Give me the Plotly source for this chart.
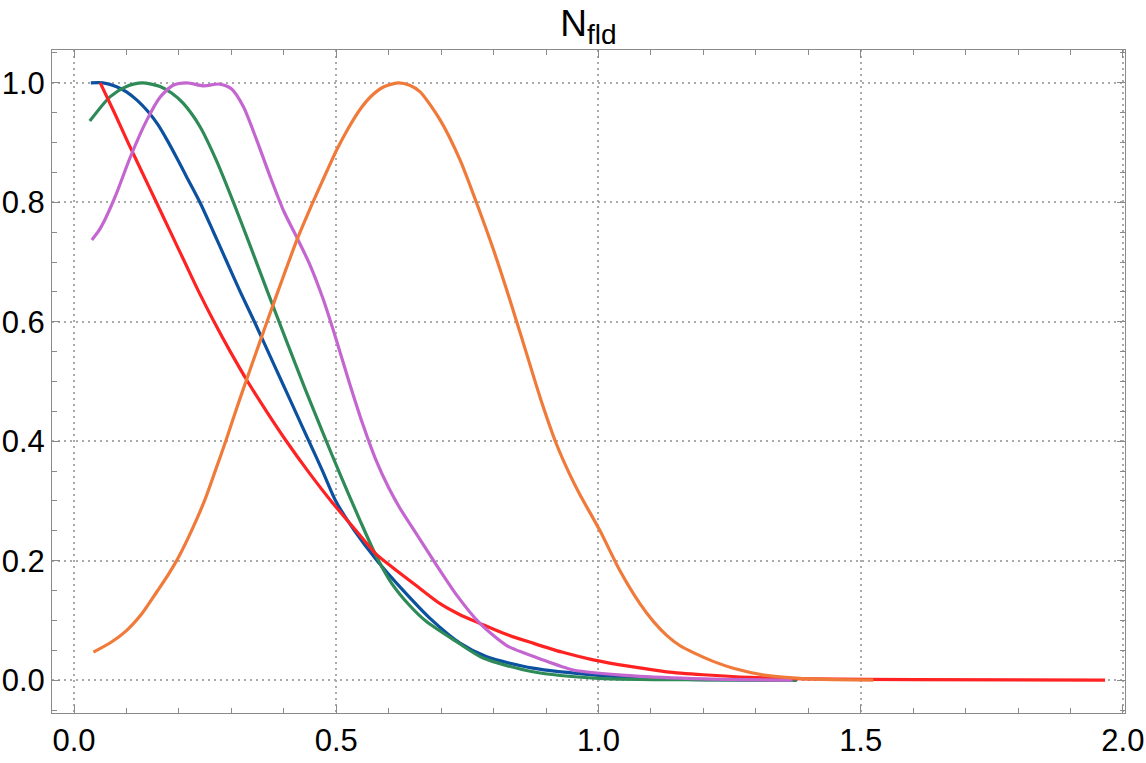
import plotly.graph_objects as go

# ---- data ----
blue_x = [0.032, 0.055, 0.08, 0.1, 0.12, 0.141, 0.16, 0.177, 0.195, 0.215, 0.24, 0.265, 0.29, 0.317, 0.344,
          0.37, 0.396, 0.422, 0.448, 0.474, 0.499, 0.535, 0.578, 0.628, 0.683, 0.736, 0.787, 0.875, 1.0,
          1.1, 1.2, 1.378]
blue_y = [1.0, 1.0, 0.994, 0.985, 0.971, 0.952, 0.93, 0.905, 0.876, 0.842, 0.8, 0.752, 0.703, 0.65, 0.6,
          0.55, 0.5, 0.45, 0.4, 0.35, 0.3, 0.25, 0.2, 0.15, 0.1, 0.062, 0.039, 0.02, 0.008,
          0.003, 0.001, 0.0]

green_x = [0.03, 0.069, 0.1, 0.13, 0.164, 0.186, 0.208, 0.24, 0.272, 0.304, 0.336, 0.37, 0.405, 0.44, 0.475,
           0.51, 0.545, 0.575, 0.605, 0.64, 0.672, 0.73, 0.78, 0.875, 1.0, 1.2, 1.378]
green_y = [0.936, 0.977, 0.994, 1.0, 0.994, 0.983, 0.966, 0.927, 0.869, 0.8, 0.727, 0.648, 0.568, 0.489, 0.413,
           0.339, 0.268, 0.21, 0.163, 0.125, 0.098, 0.064, 0.037, 0.014, 0.003, 0.0005, 0.0]

red_x = [0.05, 0.077, 0.103, 0.13, 0.157, 0.184, 0.211, 0.238, 0.267, 0.298, 0.331, 0.367, 0.405, 0.446,
         0.49, 0.538, 0.575, 0.61, 0.65, 0.698, 0.735, 0.774, 0.82, 0.875, 0.93, 0.99, 1.06, 1.13, 1.2,
         1.289, 1.4, 1.6, 1.966]
red_y = [1.0, 0.95, 0.9, 0.85, 0.8, 0.75, 0.7, 0.65, 0.6, 0.55, 0.5, 0.45, 0.4, 0.35,
         0.3, 0.25, 0.212, 0.187, 0.16, 0.128, 0.11, 0.095, 0.078, 0.062, 0.047, 0.034, 0.023, 0.014, 0.009,
         0.0045, 0.002, 0.0008, 0.0]

purple_x = [0.034, 0.047, 0.06, 0.081, 0.107, 0.139, 0.164, 0.189, 0.215, 0.247, 0.278, 0.3, 0.323, 0.348,
            0.374, 0.4, 0.425, 0.45, 0.475, 0.5, 0.525, 0.55, 0.575, 0.6, 0.622, 0.655, 0.685, 0.73, 0.774,
            0.825, 0.888, 0.952, 1.066, 1.2, 1.37]
purple_y = [0.737, 0.752, 0.773, 0.815, 0.875, 0.938, 0.976, 0.996, 1.0, 0.995, 0.998, 0.99, 0.96, 0.905,
            0.843, 0.785, 0.741, 0.695, 0.638, 0.57, 0.498, 0.43, 0.37, 0.322, 0.287, 0.242, 0.201, 0.142, 0.095,
            0.058, 0.036, 0.017, 0.007, 0.002, 0.0]

orange_x = [0.037, 0.07, 0.1, 0.13, 0.158, 0.18, 0.2, 0.225, 0.25, 0.27, 0.29, 0.31, 0.329, 0.353, 0.377,
            0.4, 0.425, 0.445, 0.463, 0.482, 0.501, 0.523, 0.545, 0.567, 0.59, 0.618, 0.64, 0.66, 0.698,
            0.736, 0.768, 0.8, 0.831, 0.86, 0.89, 0.92, 0.945, 0.965, 1.003, 1.041, 1.079, 1.105, 1.13,
            1.155, 1.181, 1.22, 1.257, 1.32, 1.384, 1.45, 1.524]
orange_y = [0.047, 0.063, 0.083, 0.112, 0.148, 0.177, 0.207, 0.252, 0.303, 0.352, 0.402, 0.455, 0.503, 0.563,
            0.622, 0.678, 0.737, 0.779, 0.815, 0.852, 0.888, 0.924, 0.955, 0.978, 0.993, 1.0, 0.996, 0.985,
            0.938, 0.871, 0.798, 0.72, 0.637, 0.555, 0.47, 0.395, 0.345, 0.31, 0.25, 0.183, 0.128, 0.098,
            0.075, 0.058, 0.046, 0.031, 0.02, 0.008, 0.003, 0.001, 0.0]

series = [
    (blue_x, blue_y, "#0c51a0"),
    (green_x, green_y, "#2e8a57"),
    (red_x, red_y, "#ff2222"),
    (purple_x, purple_y, "#c466d0"),
    (orange_x, orange_y, "#f07a3a"),
]

fig = go.Figure()
for xs, ys, col in series:
    fig.add_trace(go.Scatter(x=xs, y=ys, mode="lines",
                             line=dict(color=col, width=3.2, shape="spline", smoothing=0.7),
                             showlegend=False, hoverinfo="skip"))

FONT = "Liberation Sans, Arial, Helvetica, sans-serif"
axis_common = dict(
    showline=True, linecolor="#8a8a8a", linewidth=1, mirror="ticks",
    ticks="inside", ticklen=8, tickcolor="#8a8a8a", tickwidth=1,
    showgrid=True, gridcolor="#aaaaaa", gridwidth=1.5, griddash="2px,4px",
    zeroline=False, tickfont=dict(family=FONT, size=31, color="black"),
    tickformat=".1f", automargin=False,
)

fig.update_xaxes(range=[-0.042, 2.004], tickmode="array", tickvals=[0.0, 0.5, 1.0, 1.5, 2.0],
                 minor=dict(dtick=0.1, tick0=0, ticks="inside", ticklen=5, tickcolor="#8a8a8a", showgrid=False),
                 **axis_common)
fig.update_yaxes(range=[-0.055, 1.055], tickmode="array", tickvals=[0.0, 0.2, 0.4, 0.6, 0.8, 1.0],
                 minor=dict(dtick=0.05, tick0=0, ticks="inside", ticklen=5, tickcolor="#8a8a8a", showgrid=False),
                 **axis_common)

fig.update_layout(
    width=1146, height=763,
    margin=dict(l=52, r=21, t=50, b=50, autoexpand=False),
    plot_bgcolor="white", paper_bgcolor="white",
    title=dict(text='N<sub><span style="font-size:28px">fld</span></sub>', x=0.5135, xanchor="center",
               y=1 - 36 / 763, yanchor="bottom", yref="container",
               font=dict(family=FONT, size=37, color="black")),
)

fig.write_html("out.html")
